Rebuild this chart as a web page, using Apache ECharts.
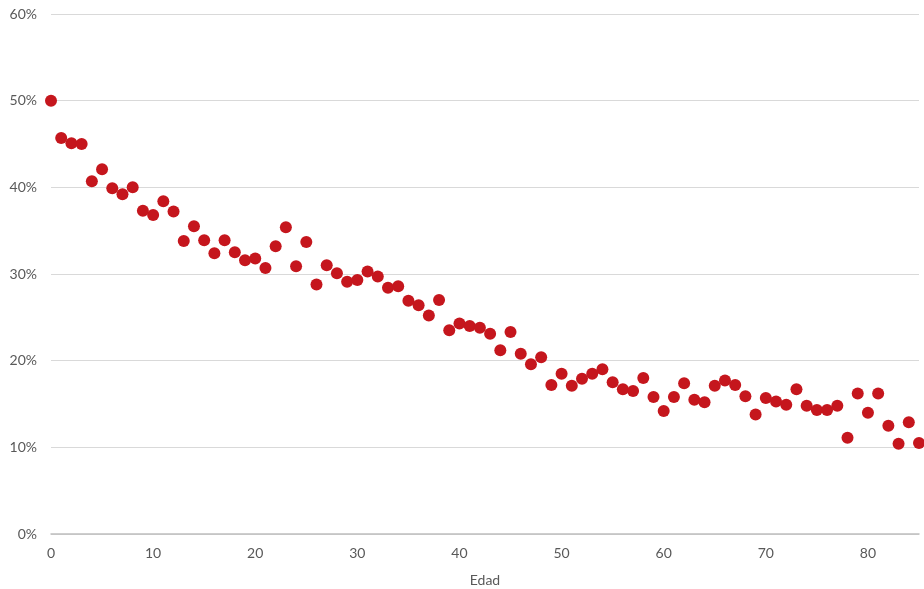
<!DOCTYPE html>
<html><head><meta charset="utf-8">
<script src="https://cdn.jsdelivr.net/npm/echarts@6/dist/echarts.min.js"></script>
<style>html,body{margin:0;padding:0;background:#fff}#c{width:924px;height:589px}</style>
</head><body><div id="c"></div>
<script>
const ages = [];
for (let i = 0; i <= 85; i++) ages.push(i);
const shares = [50.0,45.7,45.1,45.0,40.7,42.1,39.9,39.2,40.0,37.3,36.8,38.4,37.2,33.8,35.5,33.9,32.4,33.9,32.5,31.6,
31.8,30.7,33.2,35.4,30.9,33.7,28.8,31.0,30.1,29.1,29.3,30.3,29.7,28.4,28.6,26.9,26.4,25.2,27.0,23.5,
24.3,24.0,23.8,23.1,21.2,23.3,20.8,19.6,20.4,17.2,18.5,17.1,17.9,18.5,19.0,17.5,16.7,16.5,18.0,15.8,
14.2,15.8,17.4,15.5,15.2,17.1,17.7,17.2,15.9,13.8,15.7,15.3,14.9,16.7,14.8,14.3,14.3,14.8,11.1,16.2,
14.0,16.2,12.5,10.4,12.9,10.5];
const xTitle = 'Edad';
const data = ages.map((a, i) => [a, shares[i]]);
const chart = echarts.init(document.getElementById('c'));
const font = 'Lato, "Open Sans", sans-serif';
chart.setOption({
  animation: false,
  grid: {left: 51, right: 5, top: 14, bottom: 55, containLabel: false, outerBoundsMode: 'none'},
  xAxis: {
    type: 'value', min: 0, max: 85, interval: 10,
    name: xTitle, nameLocation: 'middle', nameGap: 39,
    nameTextStyle: {color: '#595959', fontSize: 14, fontFamily: font},
    axisLine: {show: true, lineStyle: {color: '#bfbfbf', width: 1.5}},
    axisTick: {show: false},
    axisLabel: {color: '#595959', fontSize: 14, fontFamily: font, margin: 12, showMaxLabel: false},
    splitLine: {show: false}
  },
  yAxis: {
    type: 'value', min: 0, max: 60, interval: 10,
    axisLine: {show: false}, axisTick: {show: false},
    axisLabel: {color: '#595959', fontSize: 14, fontFamily: font, margin: 14, formatter: v => v + '%'},
    splitLine: {lineStyle: {color: '#d9d9d9', width: 1}}
  },
  series: [{
    type: 'scatter', data: data, symbolSize: 12,
    itemStyle: {color: '#C5161D', opacity: 1}
  }]
});
</script></body></html>
